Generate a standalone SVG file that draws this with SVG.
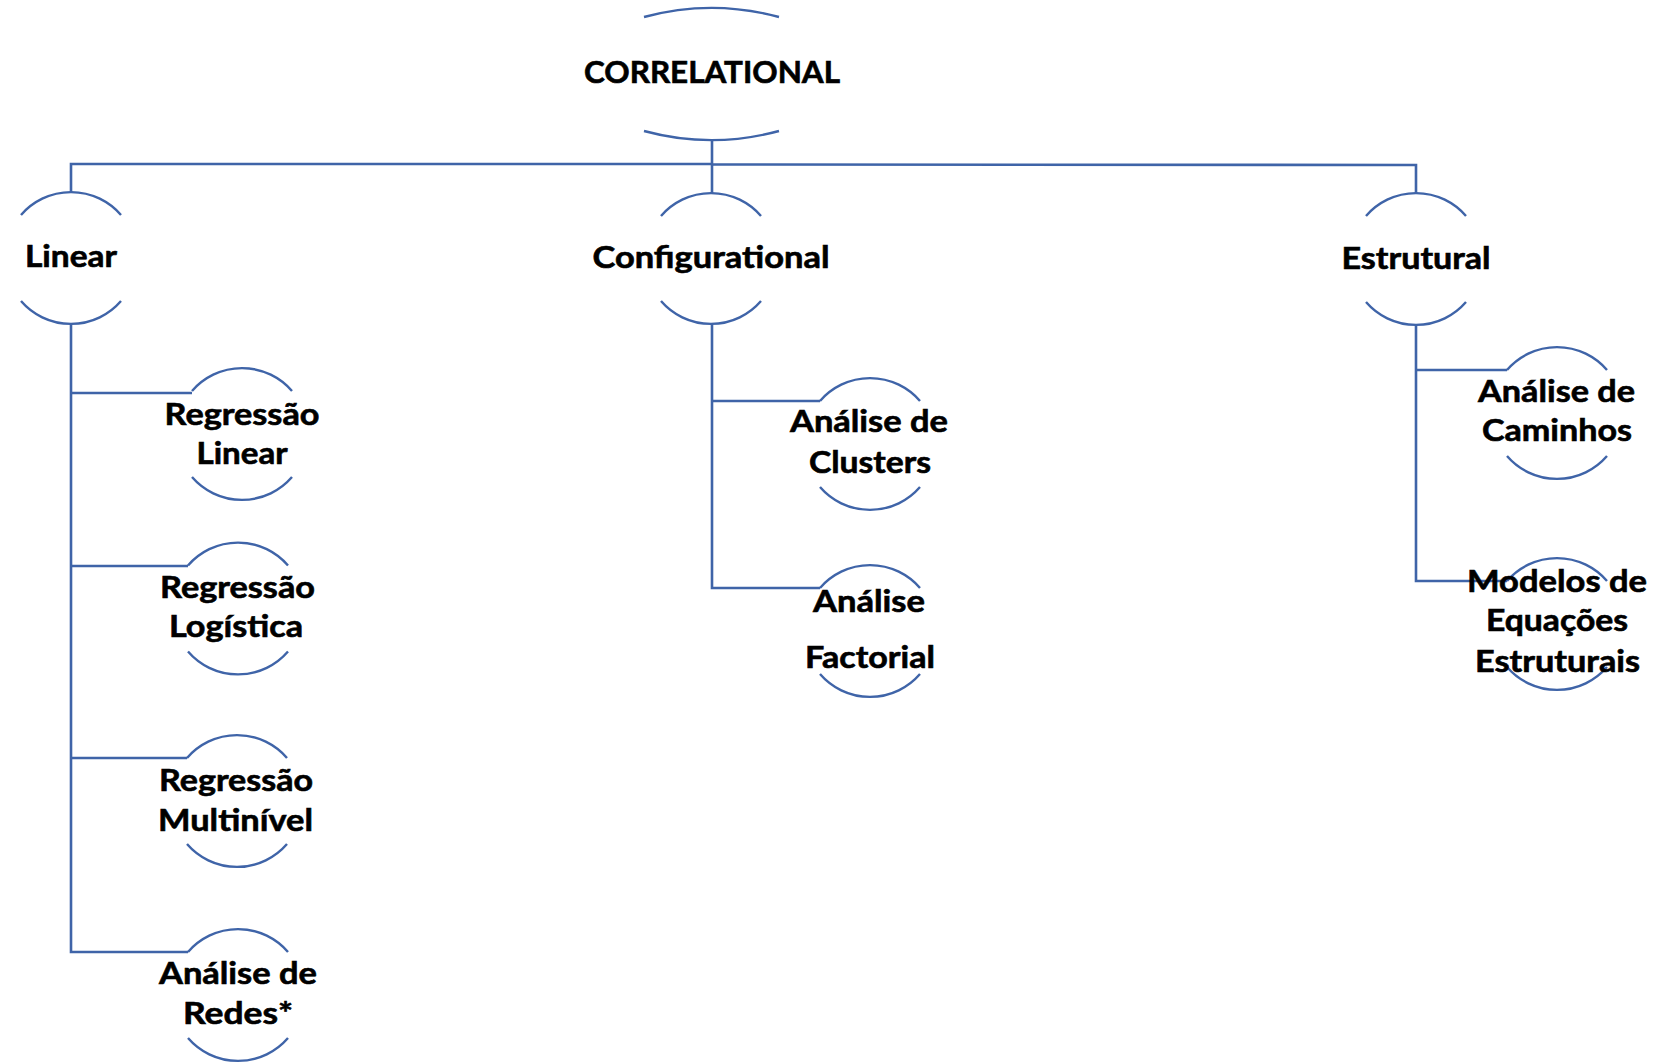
<svg xmlns="http://www.w3.org/2000/svg" width="1673" height="1063" viewBox="0 0 1673 1063">
<style>
.arc{fill:none;stroke:#3f64a8;stroke-width:2.4}
.ln{fill:none;stroke:#3f64a8;stroke-width:2.6}
text{font-family:Lato,"Open Sans","Liberation Sans",sans-serif;font-weight:bold;font-size:29.5px;fill:#000;stroke:#000;stroke-width:0.6;text-anchor:middle}
</style>
<rect width="1673" height="1063" fill="#fff"/>
<g id="connectors">
<path class="ln" d="M712,141 V164 H71 V192"/>
<path class="ln" d="M712,164 V193"/>
<path class="ln" d="M712,164.5 L1416,165 V193"/>
<path class="ln" d="M71,324 V952 H188"/>
<path class="ln" d="M71,393 H192"/>
<path class="ln" d="M71,566 H188"/>
<path class="ln" d="M71,758 H187"/>
<path class="ln" d="M712,324 V588 H820"/>
<path class="ln" d="M712,401 H820"/>
<path class="ln" d="M1416,325 V581 H1507"/>
<path class="ln" d="M1416,370 H1507"/>
</g>
<g id="node-correlational">
<path class="arc" d="M644,17 A258,258 0 0 1 779,17"/>
<path class="arc" d="M644,131 A258,258 0 0 0 779,131"/>
<text x="712" y="83" textLength="256" lengthAdjust="spacingAndGlyphs">CORRELATIONAL</text>
</g>
<g id="node-linear">
<path class="arc" d="M21,215 A66,66 0 0 1 121,215"/>
<path class="arc" d="M21,301 A66,66 0 0 0 121,301"/>
<text x="71" y="267" textLength="92" lengthAdjust="spacingAndGlyphs">Linear</text>
</g>
<g id="node-configurational">
<path class="arc" d="M661,216 A66,66 0 0 1 761,216"/>
<path class="arc" d="M661,301 A66,66 0 0 0 761,301"/>
<text x="711" y="268" textLength="237" lengthAdjust="spacingAndGlyphs">Configurational</text>
</g>
<g id="node-estrutural">
<path class="arc" d="M1366,216 A66,66 0 0 1 1466,216"/>
<path class="arc" d="M1366,302 A66,66 0 0 0 1466,302"/>
<text x="1416" y="269" textLength="149" lengthAdjust="spacingAndGlyphs">Estrutural</text>
</g>
<g id="node-regressao-linear">
<path class="arc" d="M192,391 A66,66 0 0 1 292,391"/>
<path class="arc" d="M192,477 A66,66 0 0 0 292,477"/>
<text x="242" y="425" textLength="155" lengthAdjust="spacingAndGlyphs">Regressão</text>
<text x="242" y="464" textLength="91" lengthAdjust="spacingAndGlyphs">Linear</text>
</g>
<g id="node-regressao-logistica">
<path class="arc" d="M188,565.5 A66,66 0 0 1 288,565.5"/>
<path class="arc" d="M188,651.5 A66,66 0 0 0 288,651.5"/>
<text x="237.5" y="598" textLength="155" lengthAdjust="spacingAndGlyphs">Regressão</text>
<text x="236" y="637" textLength="134" lengthAdjust="spacingAndGlyphs">Logística</text>
</g>
<g id="node-regressao-multinivel">
<path class="arc" d="M187,758 A66,66 0 0 1 287,758"/>
<path class="arc" d="M187,844 A66,66 0 0 0 287,844"/>
<text x="236" y="791" textLength="154" lengthAdjust="spacingAndGlyphs">Regressão</text>
<text x="235.5" y="831" textLength="155" lengthAdjust="spacingAndGlyphs">Multinível</text>
</g>
<g id="node-analise-redes">
<path class="arc" d="M188,952 A66,66 0 0 1 288,952"/>
<path class="arc" d="M188,1038 A66,66 0 0 0 288,1038"/>
<text x="238" y="984" textLength="158" lengthAdjust="spacingAndGlyphs">Análise de</text>
<text x="238" y="1024" textLength="110" lengthAdjust="spacingAndGlyphs">Redes*</text>
</g>
<g id="node-analise-clusters">
<path class="arc" d="M820,401 A66,66 0 0 1 920,401"/>
<path class="arc" d="M820,487 A66,66 0 0 0 920,487"/>
<text x="869" y="432" textLength="158" lengthAdjust="spacingAndGlyphs">Análise de</text>
<text x="870" y="473" textLength="122" lengthAdjust="spacingAndGlyphs">Clusters</text>
</g>
<g id="node-analise-factorial">
<path class="arc" d="M820,588 A66,66 0 0 1 920,588"/>
<path class="arc" d="M820,674 A66,66 0 0 0 920,674"/>
<text x="869" y="612" textLength="112" lengthAdjust="spacingAndGlyphs">Análise</text>
<text x="870" y="668" textLength="130" lengthAdjust="spacingAndGlyphs">Factorial</text>
</g>
<g id="node-analise-caminhos">
<path class="arc" d="M1507,370 A66,66 0 0 1 1607,370"/>
<path class="arc" d="M1507,456 A66,66 0 0 0 1607,456"/>
<text x="1556.5" y="402" textLength="157" lengthAdjust="spacingAndGlyphs">Análise de</text>
<text x="1557" y="441" textLength="150" lengthAdjust="spacingAndGlyphs">Caminhos</text>
</g>
<g id="node-modelos-equacoes">
<path class="arc" d="M1507,581 A66,66 0 0 1 1607,581"/>
<path class="arc" d="M1507,667 A66,66 0 0 0 1607,667"/>
<text x="1557" y="592" textLength="180" lengthAdjust="spacingAndGlyphs">Modelos de</text>
<text x="1557" y="631" textLength="142" lengthAdjust="spacingAndGlyphs">Equações</text>
<text x="1557.5" y="672" textLength="165" lengthAdjust="spacingAndGlyphs">Estruturais</text>
</g>
</svg>
